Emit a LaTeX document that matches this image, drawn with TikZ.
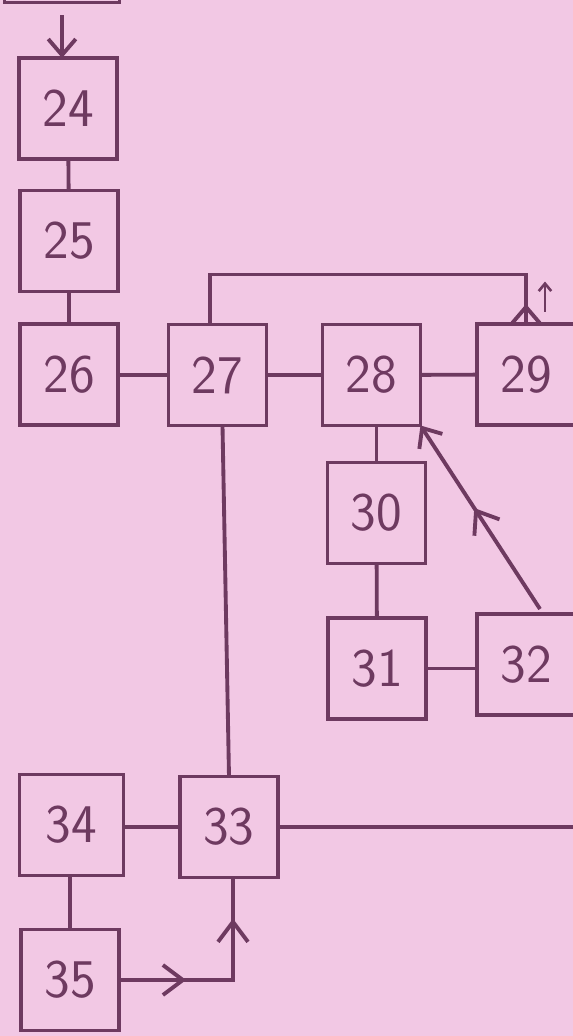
\documentclass[tikz,border=0pt]{standalone}
\usepackage{tikz}
\usetikzlibrary{arrows.meta,decorations.markings}
\definecolor{ink}{RGB}{110,58,96}
\definecolor{paper}{RGB}{242,200,228}

\begin{document}
\begin{tikzpicture}[
    x=0.02cm, y=-0.02cm,
    color=ink,
    line width=2.2pt,
    >={Straight Barb[length=0.32cm,width=0.55cm]},
    blk/.style={draw, minimum width=1.96cm, minimum height=2.02cm, inner sep=0pt, outer sep=0pt, font=\sffamily\fontsize{31}{34}\selectfont},
    midarrow/.style={postaction={decorate, decoration={markings, mark=at position #1 with {\arrow{Straight Barb[length=0.4cm,width=0.6cm]}}}}}
]
\useasboundingbox (0,0) rectangle (573,1036);
\clip (0,0) rectangle (573,1036);
\fill[paper] (0,0) rectangle (573,1036);

\node[blk, minimum width=2.3cm] (top) at (62,-48) {};
\node[blk] (n24) at (68,108.5) {24};
\node[blk] (n25) at (69,241) {25};
\node[blk] (n26) at (69,374.5) {26};
\node[blk] (n27) at (217.5,375) {27};
\node[blk] (n28) at (371.5,375) {28};
\node[blk] (n29) at (526,374.5) {29};
\node[blk] (n30) at (376.5,513) {30};
\node[blk] (n31) at (377,668.5) {31};
\node[blk] (n32) at (526,664.5) {32};
\node[blk] (n33) at (229,827) {33};
\node[blk, minimum width=2.08cm] (n34) at (71.5,825) {34};
\node[blk] (n35) at (70,980) {35};
\coordinate (exit) at (590,828);

\draw[->] ([yshift=-0.26cm]top.south) -- (top.south |- n24.north);
\draw (n24) -- (n25);
\draw (n25) -- (n26);
\draw (n27.west) -- (n27.west -| n26.east);
\draw (n27) -- (n28);
\draw (n28) -- (n29);
% return line over the top
\draw ([xshift=-0.15cm]n27.north) -- ++(0,1cm) -| (n29.north);
\draw[-{Straight Barb[length=0.35cm,width=0.6cm]}] (n29.north) -- ++(0,0.4cm);
\draw[-{Straight Barb[length=0.15cm,width=0.25cm]}, line width=1.5pt] ([shift={(0.38cm,0.25cm)}]n29.north) -- ++(0,0.6cm);
\draw (n30.north) -- (n30.north |- n28.south);
\draw (n30) -- (n31);
\draw (n31.east) -- (n31.east -| n32.west);
\draw[->, midarrow=0.55] ([shift={(0.28cm,0.1cm)}]n32.north) -- (n28.south east);
\draw ([xshift=0.1cm]n27.south) -- (n33.north);
\draw (n33.west) -- (n33.west -| n34.east);
\draw (n35.north) -- (n35.north |- n34.south);
\draw[midarrow=0.31, midarrow=0.81] (n35.east) -| ([xshift=0.08cm]n33.south);
\draw (n33.east) -- (n33.east -| exit);
\end{tikzpicture}
\end{document}
